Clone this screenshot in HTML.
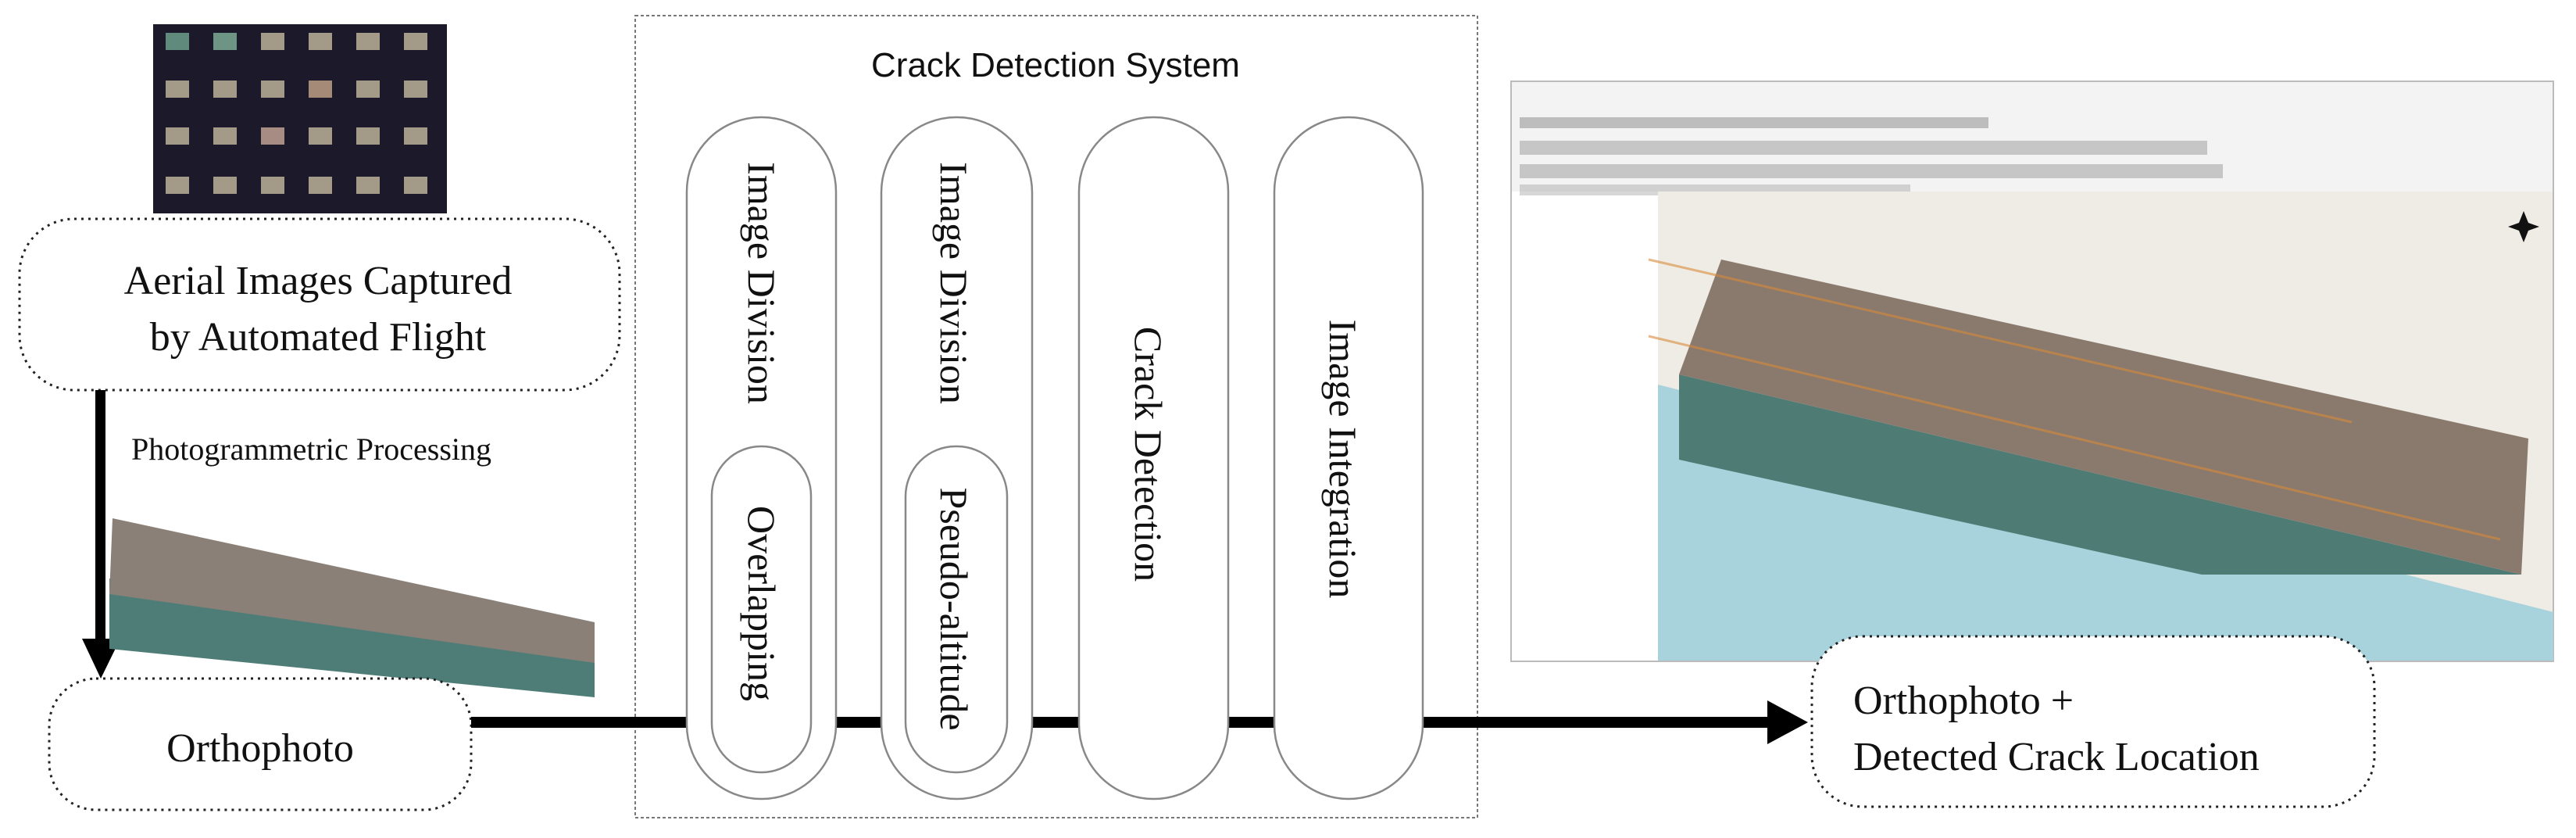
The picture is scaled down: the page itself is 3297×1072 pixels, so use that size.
<!DOCTYPE html>
<html><head><meta charset="utf-8"><style>
html,body{margin:0;padding:0;background:#fff;}
svg{display:block;}
.serif{font-family:"Liberation Serif",serif;fill:#111;}
.sans{font-family:"Liberation Sans",sans-serif;fill:#111;}
</style></head><body>
<svg width="3297" height="1072" viewBox="0 0 3297 1072" xmlns="http://www.w3.org/2000/svg">
<!-- thumbnail grid -->
<rect x="196" y="31" width="376" height="242" fill="#1c1a2a"/>
<g fill="#a49a88">
<rect x="212" y="42" width="30" height="22" fill="#5f8a7c"/><rect x="273" y="42" width="30" height="22" fill="#6d9484"/><rect x="334" y="42" width="30" height="22"/><rect x="395" y="42" width="30" height="22"/><rect x="456" y="42" width="30" height="22"/><rect x="517" y="42" width="30" height="22"/>
<rect x="212" y="103" width="30" height="22"/><rect x="273" y="103" width="30" height="22"/><rect x="334" y="103" width="30" height="22"/><rect x="395" y="103" width="30" height="22" fill="#a58a78"/><rect x="456" y="103" width="30" height="22"/><rect x="517" y="103" width="30" height="22"/>
<rect x="212" y="163" width="30" height="22"/><rect x="273" y="163" width="30" height="22"/><rect x="334" y="163" width="30" height="22" fill="#a68c82"/><rect x="395" y="163" width="30" height="22"/><rect x="456" y="163" width="30" height="22"/><rect x="517" y="163" width="30" height="22"/>
<rect x="212" y="226" width="30" height="22"/><rect x="273" y="226" width="30" height="22"/><rect x="334" y="226" width="30" height="22"/><rect x="395" y="226" width="30" height="22"/><rect x="456" y="226" width="30" height="22"/><rect x="517" y="226" width="30" height="22"/>
</g>
<!-- aerial box -->
<rect x="25" y="280" width="768" height="219" rx="70" fill="none" stroke="#222" stroke-width="3" stroke-dasharray="3 6"/>
<text class="serif" x="407" y="376" font-size="52" text-anchor="middle">Aerial Images Captured</text>
<text class="serif" x="407" y="448" font-size="52" text-anchor="middle">by Automated Flight</text>
<!-- down arrow -->
<rect x="122" y="499" width="13" height="322" fill="#000"/>
<polygon points="105,817 154,817 129,868" fill="#000"/>
<text class="serif" x="168" y="588" font-size="40">Photogrammetric Processing</text>
<!-- ortho image -->
<polygon points="140,740 761,840 761,892 140,830" fill="#4e7d78"/>
<polygon points="144,663 761,796 761,848 140,760" fill="#8b8078"/>
<!-- orthophoto box -->
<rect x="63" y="868" width="540" height="168" rx="60" fill="#fff" stroke="#222" stroke-width="3" stroke-dasharray="3 6"/>
<text class="serif" x="333" y="974" font-size="52" text-anchor="middle">Orthophoto</text>
<!-- system box -->
<rect x="813" y="20" width="1078" height="1026" fill="none" stroke="#777" stroke-width="2" stroke-dasharray="4 3"/>
<text class="sans" x="1351" y="98" font-size="44" text-anchor="middle">Crack Detection System</text>
<!-- main line -->
<rect x="603" y="917" width="1665" height="14" fill="#000"/>
<polygon points="2262,896 2314,924 2262,952" fill="#000"/>
<!-- pills -->
<g fill="#fff" stroke="#888" stroke-width="2.5">
<rect x="879" y="150" width="191" height="872" rx="95"/>
<rect x="911" y="571" width="127" height="417" rx="63"/>
<rect x="1128" y="150" width="193" height="872" rx="96"/>
<rect x="1159" y="571" width="130" height="417" rx="64"/>
<rect x="1381" y="150" width="191" height="872" rx="95"/>
<rect x="1631" y="150" width="190" height="872" rx="95"/>
</g>
<g class="serif" font-size="50" text-anchor="middle">
<text transform="translate(958,362) rotate(90)">Image Division</text>
<text transform="translate(958,772) rotate(90)">Overlapping</text>
<text transform="translate(1204,362) rotate(90)">Image Division</text>
<text transform="translate(1204,779) rotate(90)">Pseudo-altitude</text>
<text transform="translate(1453,581) rotate(90)">Crack Detection</text>
<text transform="translate(1702,587) rotate(90)">Image Integration</text>
</g>
<!-- screenshot -->
<rect x="1934" y="104" width="1334" height="742" fill="#fff" stroke="#bbb" stroke-width="2"/>
<rect x="1935" y="105" width="1332" height="140" fill="#f3f3f3"/>
<g fill="#9a9a9a">
<rect x="1945" y="150" width="600" height="14" opacity="0.6"/>
<rect x="1945" y="180" width="880" height="18" opacity="0.5"/>
<rect x="1945" y="210" width="900" height="18" opacity="0.5"/>
<rect x="1945" y="236" width="500" height="14" opacity="0.4"/>
</g>
<rect x="2122" y="245" width="1145" height="600" fill="#efece6"/>
<polygon points="2122,492 3268,783 3268,845 2122,845" fill="#a8d2dc"/>
<polygon points="2149,479 3227,735 2818,735 2149,588" fill="#4e7b74"/>
<polygon points="2203,332 3236,561 3227,735 2149,479" fill="#8a7a6e"/>
<line x1="2110" y1="332" x2="3010" y2="540" stroke="#d98a3a" stroke-width="3" opacity="0.6"/>
<line x1="2110" y1="430" x2="3200" y2="690" stroke="#d98a3a" stroke-width="3" opacity="0.6"/>
<polygon points="3230,270 3236,285 3250,290 3236,295 3230,310 3224,295 3210,290 3224,285" fill="#111"/>
<!-- final box -->
<rect x="2319" y="814" width="720" height="218" rx="65" fill="#fff" stroke="#222" stroke-width="3" stroke-dasharray="3 6"/>
<text class="serif" x="2372" y="913" font-size="52">Orthophoto +</text>
<text class="serif" x="2372" y="985" font-size="52">Detected Crack Location</text>
</svg>
</body></html>
